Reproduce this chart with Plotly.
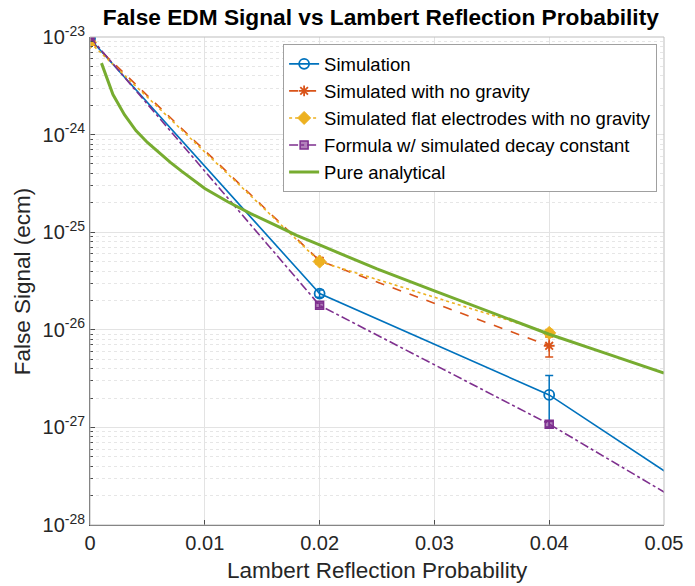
import plotly.graph_objects as go

# ---- data ----
x_sim = [0.0, 0.02, 0.04, 0.06]
y_sim = [9.6e-24, 2.35e-26, 2.15e-27, 6.0e-29]
e_sim_plus = [0.4e-24, 0.2e-26, 1.25e-27, 0]
e_sim_minus = [0.4e-24, 0.2e-26, 1.15e-27, 0]

x_nog = [0.0, 0.02, 0.04]
y_nog = [9.2e-24, 5.1e-26, 6.85e-27]
e_nog = [0.3e-24, 0.3e-26, 1.6e-27]

x_flat = [0.0, 0.02, 0.04]
y_flat = [8.8e-24, 5.0e-26, 9.3e-27]
e_flat = [0.3e-24, 0.3e-26, 0.8e-27]

x_form = [0.0, 0.02, 0.04, 0.06]
y_form = [1.0e-23, 1.78e-26, 1.08e-27, 4.4e-29]
e_form = [0.3e-24, 0.1e-26, 0.07e-27, 0]

x_ana = [0.001, 0.002, 0.003, 0.004, 0.005, 0.006, 0.007, 0.008, 0.009, 0.010,
         0.012, 0.014, 0.016, 0.018, 0.020, 0.025, 0.030, 0.035, 0.040, 0.045, 0.050]
y_ana = [5.4e-24, 2.57e-24, 1.6e-24, 1.1e-24, 8.3e-25, 6.5e-25, 5.2e-25, 4.2e-25, 3.4e-25, 2.8e-25,
         2.05e-25, 1.55e-25, 1.2e-25, 9.3e-26, 7.4e-26, 4.2e-26, 2.5e-26, 1.5e-26, 9.0e-27, 5.7e-27, 3.6e-27]

names = ["Simulation", "Simulated with no gravity", "Simulated flat electrodes with no gravity",
         "Formula w/ simulated decay constant", "Pure analytical"]
colors = ["#0072BD", "#D95319", "#EDB120", "#7E2F8E", "#77AC30"]

x_ticks = [0, 0.01, 0.02, 0.03, 0.04, 0.05]
x_tick_text = ["0", "0.01", "0.02", "0.03", "0.04", "0.05"]
y_ticks = [1e-28, 1e-27, 1e-26, 1e-25, 1e-24, 1e-23]
y_tick_text = ["10<sup>-28</sup>", "10<sup>-27</sup>", "10<sup>-26</sup>",
               "10<sup>-25</sup>", "10<sup>-24</sup>", "10<sup>-23</sup>"]

fig = go.Figure()

fig.add_trace(go.Scatter(
    x=x_sim, y=y_sim, name=names[0], mode="lines+markers",
    line=dict(color=colors[0], width=1.6),
    marker=dict(symbol="circle-open", size=10, color=colors[0], line=dict(width=1.8)),
    error_y=dict(type="data", symmetric=False, array=e_sim_plus, arrayminus=e_sim_minus,
                 color=colors[0], thickness=1.5, width=4),
))
fig.add_trace(go.Scatter(
    x=x_nog, y=y_nog, name=names[1], mode="lines+markers",
    line=dict(color=colors[1], width=1.6, dash="dash"),
    marker=dict(symbol="asterisk-open", size=9, color=colors[1], line=dict(width=1.8, color=colors[1])),
    error_y=dict(type="data", array=e_nog, color=colors[1], thickness=1.5, width=4),
))
fig.add_trace(go.Scatter(
    x=x_flat, y=y_flat, name=names[2], mode="lines+markers",
    line=dict(color=colors[2], width=1.6, dash="dot"),
    marker=dict(symbol="diamond", size=10, color=colors[2], line=dict(width=1, color=colors[2])),
    error_y=dict(type="data", array=e_flat, color=colors[2], thickness=1.5, width=4),
))
fig.add_trace(go.Scatter(
    x=x_form, y=y_form, name=names[3], mode="lines+markers",
    line=dict(color=colors[3], width=1.6, dash="dashdot"),
    marker=dict(symbol="square", size=8, color="rgba(126,47,142,0.6)", line=dict(width=1.5, color=colors[3])),
    error_y=dict(type="data", array=e_form, color=colors[3], thickness=1.5, width=4),
))
fig.add_trace(go.Scatter(
    x=x_ana, y=y_ana, name=names[4], mode="lines",
    line=dict(color=colors[4], width=3),
))

fig.update_layout(
    width=695, height=586,
    margin=dict(l=90, r=23, t=37, b=61),
    paper_bgcolor="white", plot_bgcolor="white",
    font=dict(family="Liberation Sans, Arial, sans-serif", color="#262626", size=20),
    title=dict(text="<b>False EDM Signal vs Lambert Reflection Probability</b>",
               x=0.548, xanchor="center", y=0.971, yanchor="middle",
               font=dict(size=22.7, color="black")),
    showlegend=True,
    legend=dict(x=0.988, xanchor="right", y=0.985, yanchor="top",
                bgcolor="white", bordercolor="#a0a0a0", borderwidth=1,
                font=dict(size=18.5, color="black"), tracegroupgap=0,
                itemwidth=30),
    hovermode=False,
    shapes=[dict(type="rect", xref="x domain", yref="y domain", x0=0, x1=1, y0=0, y1=1,
                 line=dict(color="#bdbdbd", width=1), layer="above")],
    annotations=[
        dict(text="False Signal (ecm)", xref="paper", yref="paper",
             x=-0.118, y=0.5, xanchor="center", yanchor="middle",
             textangle=-90, showarrow=False,
             font=dict(size=22.5, color="#262626")),
        dict(text="Lambert Reflection Probability", xref="paper", yref="paper",
             x=0.5, y=-0.094, xanchor="center", yanchor="middle",
             showarrow=False, font=dict(size=22.5, color="#262626")),
    ],
)

fig.update_xaxes(
    range=[0, 0.05], tickvals=x_ticks, ticktext=x_tick_text,
    showgrid=True, gridcolor="#e3e3e3", gridwidth=1,
    showline=True, linecolor="#4d4d4d", linewidth=1,
    ticks="inside", ticklen=5, tickcolor="#4d4d4d",
    zeroline=False,
    tickfont=dict(size=20),
)
fig.update_yaxes(
    type="log", range=[-28, -23], tickvals=y_ticks, ticktext=y_tick_text,
    showgrid=True, gridcolor="#e3e3e3", gridwidth=1,
    showline=True, linecolor="#4d4d4d", linewidth=1,
    ticks="inside", ticklen=5, tickcolor="#4d4d4d",
    zeroline=False,
    minor=dict(dtick="D1", showgrid=True, gridcolor="#e6e6e6", griddash="dot",
               ticks="inside", ticklen=3, tickcolor="#4d4d4d"),
    tickfont=dict(size=20),
)

fig.write_html("out.html")
